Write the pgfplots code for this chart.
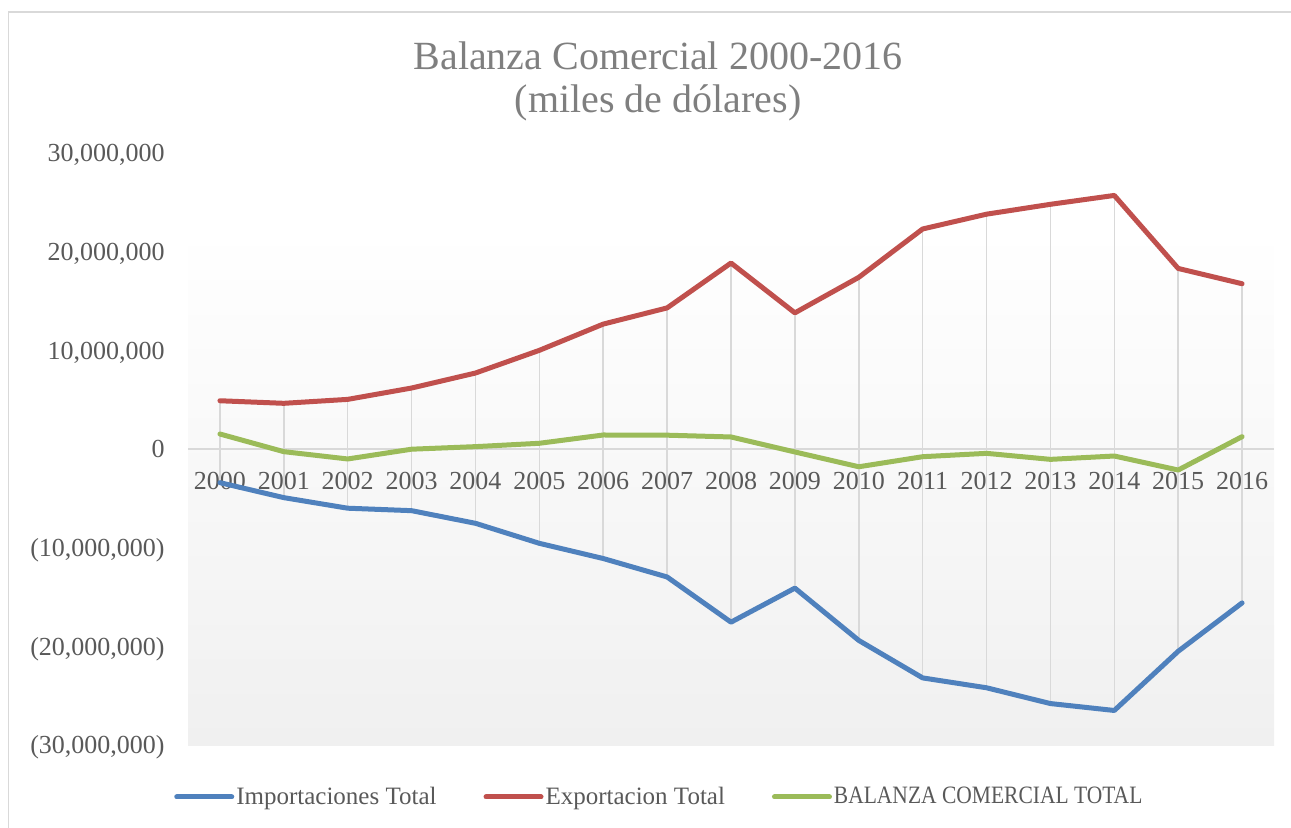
\documentclass[border=0pt]{standalone}
\usepackage{fontspec}
\setmainfont{Liberation Serif}
\usepackage{pgfplots}
\pgfplotsset{compat=1.18}
\usepackage{pgfplotstable}

\definecolor{impblue}{HTML}{4F81BD}
\definecolor{expred}{HTML}{C0504D}
\definecolor{balgreen}{HTML}{9BBB59}
\definecolor{gridgray}{HTML}{D9D9D9}
\definecolor{txtgray}{HTML}{595959}
\definecolor{titlegray}{HTML}{7F7F7F}
\definecolor{bgbottom}{HTML}{F0F0F0}

\pgfplotstableread{
x year exp imp bal
0 2000 4890000 -3410000 1520000
1 2001 4630000 -4930000 -270000
2 2002 5030000 -6000000 -1010000
3 2003 6180000 -6250000 -20000
4 2004 7700000 -7530000 240000
5 2005 10000000 -9560000 580000
6 2006 12660000 -11100000 1420000
7 2007 14300000 -12970000 1400000
8 2008 18850000 -17550000 1220000
9 2009 13800000 -14100000 -300000
10 2010 17400000 -19400000 -1800000
11 2011 22300000 -23200000 -780000
12 2012 23800000 -24200000 -440000
13 2013 24800000 -25800000 -1050000
14 2014 25700000 -26500000 -710000
15 2015 18300000 -20500000 -2130000
16 2016 16750000 -15600000 1250000
}\datatable

\begin{document}
\begin{tikzpicture}
\path (0,0) rectangle (645.5pt,413.5pt);
\begin{pgfinterruptboundingbox}
\draw[gridgray, line width=0.75pt] (4.25pt,-20pt) rectangle (700pt,407.5pt);
\end{pgfinterruptboundingbox}
\node[anchor=base, text=titlegray, font=\fontsize{20pt}{24pt}\selectfont] at (329pt,378.5pt) {Balanza Comercial 2000-2016};
\node[anchor=base, text=titlegray, font=\fontsize{20pt}{24pt}\selectfont] at (329pt,357.5pt) {(miles de dólares)};
\begin{axis}[
  set layers=standard,
  at={(94pt,41pt)}, anchor=south west,
  scale only axis, width=543pt, height=296pt,
  xmin=-0.5, xmax=16.5, ymin=-30000000, ymax=30000000,
  axis x line*=middle, axis y line*=left,
  hide obscured x ticks=false, hide obscured y ticks=false,
  y axis line style={draw=none},
  x axis line style={draw=gridgray, line width=0.75pt},
  major tick length=0pt,
  xtick={0,1,...,16},
  xticklabels={2000,2001,2002,2003,2004,2005,2006,2007,2008,2009,2010,2011,2012,2013,2014,2015,2016},
  ytick={-30000000,-20000000,-10000000,0,10000000,20000000,30000000},
  yticklabels={{(30,000,000)},{(20,000,000)},{(10,000,000)},{0\hspace{2pt}},{10,000,000\hspace{2pt}},{20,000,000\hspace{2pt}},{30,000,000\hspace{2pt}}},
  scaled y ticks=false,
  tick label style={font=\fontsize{13pt}{15pt}\selectfont, text=txtgray},
  xticklabel style={anchor=north, inner sep=0pt, yshift=-11.5pt},
  yticklabel style={anchor=base east, inner sep=0pt, xshift=-11.5pt, yshift=-4.4pt},
  legend style={at={(0.434,-0.0878)}, anchor=center, draw=none, fill=none,
    font=\fontsize{12.5pt}{14pt}\selectfont, text=txtgray,
    nodes={inner sep=1pt},
    /tikz/every even column/.append style={column sep=22.5pt}},
  legend columns=3,
  legend image code/.code={\draw[#1, line cap=round] (0pt,0pt) -- (27.5pt,0pt);},
  every axis plot/.append style={line width=2.5pt, line join=round, line cap=round},
]
\begin{pgfonlayer}{axis background}
\fill[top color=white, bottom color=bgbottom] (axis cs:-0.5,22400000) rectangle (axis cs:16.5,-30000000);
\end{pgfonlayer}
\addplot[draw=none, mark=none, forget plot, line width=0.75pt,
  error bars/.cd, y dir=minus, y explicit, error mark=none,
  error bar style={draw=gridgray, line width=0.75pt}]
  table[x=x, y=exp, y error expr=\thisrow{exp}-\thisrow{imp}] {\datatable};
\addplot[impblue] table[x=x, y=imp] {\datatable};
\addlegendentry{Importaciones Total}
\addplot[expred] table[x=x, y=exp] {\datatable};
\addlegendentry{Exportacion Total}
\addplot[balgreen] table[x=x, y=bal] {\datatable};
\addlegendentry{\scalebox{0.86}[1]{BALANZA COMERCIAL TOTAL}}
\end{axis}
\end{tikzpicture}
\end{document}
